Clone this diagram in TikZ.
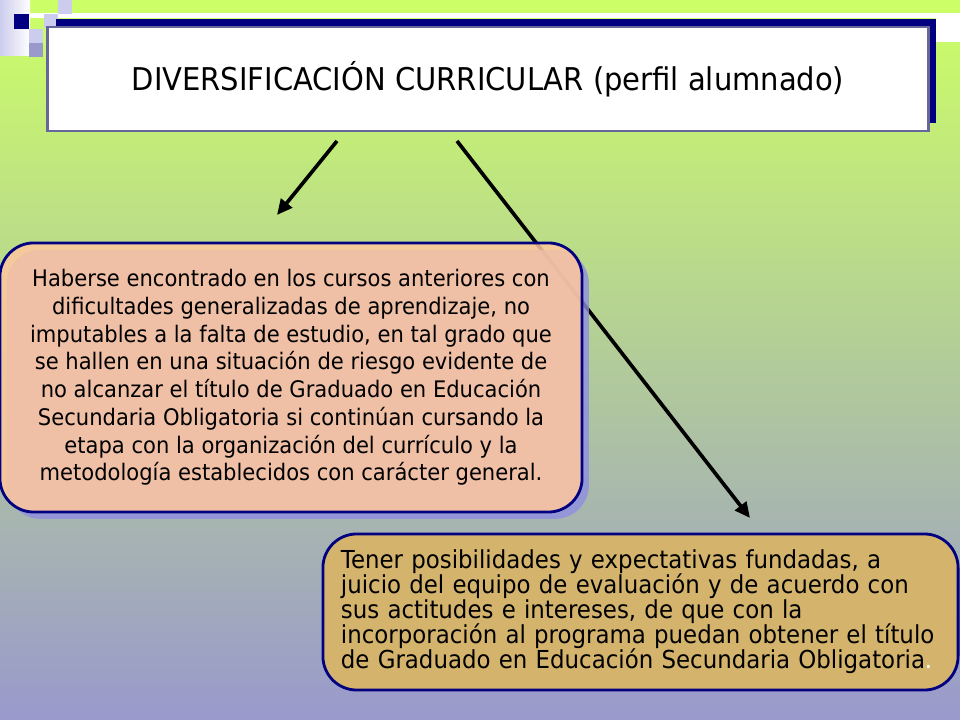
\documentclass[tikz,border=0pt]{standalone}
\usepackage{fontspec}
\setmainfont{DejaVu Sans}[FakeStretch=0.925]
\usepackage{tikz}
\usetikzlibrary{arrows.meta, positioning, shadows}

\definecolor{fondoarriba}{HTML}{CCFF66}
\definecolor{fondoabajo}{HTML}{9999CC}
\definecolor{marino}{HTML}{000080}
\definecolor{bordetitulo}{HTML}{666699}
\definecolor{lavanda}{HTML}{CCCCEE}
\definecolor{lavandaosc}{HTML}{9999CC}
\definecolor{salmon}{HTML}{FFC79E}
\definecolor{dorado}{HTML}{D4B46C}
\definecolor{sombra}{HTML}{8F8FE0}

\begin{document}
\begin{tikzpicture}[x=0.025cm, y=-0.025cm,
    flecha/.style={line width=2.6pt, -{Triangle[length=11pt, width=10pt]}},
    caja/.style={draw=marino, line width=2pt, rounded corners=24pt}]
  \useasboundingbox (0,0) rectangle (960,720);
  % fondo
  \shade[top color=fondoarriba, bottom color=fondoabajo] (0,0) rectangle (960,720);
  \fill[white] (30,13) rectangle (960,18);
  \fill[white] (936,13) rectangle (960,42);
  \shade[left color=lavanda, right color=white] (0,0) rectangle (30,56);
  \fill[marino] (14,14) rectangle (29,29);
  \fill[lavanda] (58,0) rectangle (72,14);
  \fill[lavanda] (44,14) rectangle (58,28);
  \fill[lavanda] (29,29) rectangle (43,43);
  \fill[lavandaosc] (29,43) rectangle (43,57);

  % titulo
  \node[draw=bordetitulo, line width=2pt, fill=white, minimum width=22cm, minimum height=2.6cm,
    copy shadow={shadow xshift=0.2cm, shadow yshift=0.2cm, fill=marino, draw=none},
    font=\fontsize{22.3}{26}\selectfont] (titulo) at (488,79)
    {DIVERSIFICACIÓN CURRICULAR (perfil alumnado)};

  \coordinate (ini1) at (337,141);
  \coordinate (fin1) at (277,215);
  \coordinate (ini2) at (457,141);
  \coordinate (fin2) at (750,518);

  \draw[flecha] (ini2) -- (fin2);

  \node[caja, fill=salmon, fill opacity=0.85, text opacity=1, align=center,
    minimum width=14.55cm, minimum height=6.725cm,
    copy shadow={shadow xshift=0.17cm, shadow yshift=-0.17cm, fill=sombra, fill opacity=0.8, draw=none},
    font=\fontsize{16.2}{19.7}\selectfont] (perfil) at (291,377.5)
    {Haberse encontrado en los cursos anteriores con\\
     dificultades generalizadas de aprendizaje, no\\
     imputables a la falta de estudio, en tal grado que\\
     se hallen en una situación de riesgo evidente de\\
     no alcanzar el título de Graduado en Educación\\
     Secundaria Obligatoria si continúan cursando la\\
     etapa con la organización del currículo y la\\
     metodología establecidos con carácter general.};

  \draw[flecha] (ini1) -- (fin1);

  \node[caja, fill=dorado, align=left, text width=14.975cm, inner xsep=0.45cm, inner ysep=0.2cm,
    minimum height=3.9cm, font=\fontsize{17.6}{17.8}\selectfont] (requisito) at (640.5,612)
    {Tener posibilidades y expectativas fundadas, a\\
     juicio del equipo de evaluación y de acuerdo con\\
     sus actitudes e intereses, de que con la\\
     incorporación al programa puedan obtener el título\\
     de Graduado en Educación Secundaria Obligatoria\textcolor{white}{.}};
\end{tikzpicture}
\end{document}
